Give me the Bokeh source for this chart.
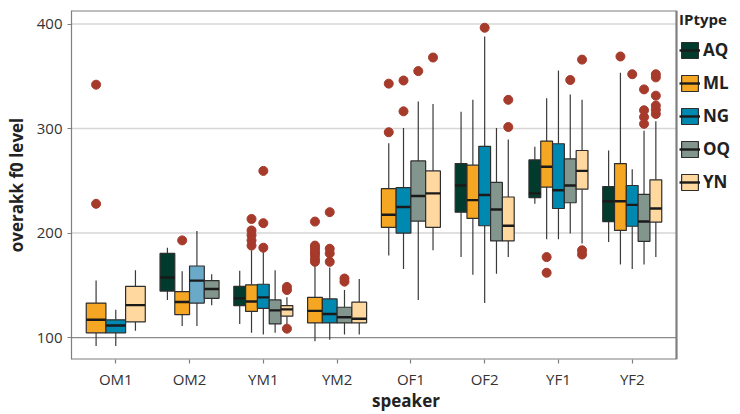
from bokeh.plotting import figure
from bokeh.models import ColumnDataSource, Range1d, FixedTicker, Legend, LegendItem
from bokeh.embed import file_html
from bokeh.resources import INLINE

speakers = ["OM1", "OM2", "YM1", "YM2", "OF1", "OF2", "YF1", "YF2"]
iptypes = ["AQ", "ML", "NG", "OQ", "YN"]
y_ticks = [100, 200, 300, 400]

box_speaker = ["OM1", "OM1", "OM1",
               "OM2", "OM2", "OM2", "OM2",
               "YM1", "YM1", "YM1", "YM1", "YM1",
               "YM2", "YM2", "YM2", "YM2",
               "OF1", "OF1", "OF1", "OF1",
               "OF2", "OF2", "OF2", "OF2", "OF2",
               "YF1", "YF1", "YF1", "YF1", "YF1",
               "YF2", "YF2", "YF2", "YF2", "YF2"]
box_type = ["ML", "NG", "YN",
            "AQ", "ML", "NG", "OQ",
            "AQ", "ML", "NG", "OQ", "YN",
            "ML", "NG", "OQ", "YN",
            "ML", "NG", "OQ", "YN",
            "AQ", "ML", "NG", "OQ", "YN",
            "AQ", "ML", "NG", "OQ", "YN",
            "AQ", "ML", "NG", "OQ", "YN"]
box_low = [92, 92, 106.5,
           136, 111, 111, 131,
           113, 104.5, 103, 104.5, 112.5,
           96.5, 98, 103, 103,
           178.5, 165.5, 136, 183.5,
           177, 160, 133, 161, 177,
           228, 194, 194, 199.5, 190,
           191.5, 170, 165.5, 170, 177]
box_q1 = [104.5, 104.5, 115,
          144.5, 122, 133, 137.5,
          130.5, 125, 128, 113, 120.5,
          114, 114, 114, 114,
          205.5, 200, 211.5, 205.5,
          220, 214, 207, 192.5, 192.5,
          234, 244, 223.5, 229, 242,
          211, 202.5, 206.5, 192, 210.5]
box_med = [117, 111.5, 131,
           157.5, 134, 154.5, 146.5,
           137.5, 134.5, 138.5, 126, 127,
           125.5, 122.5, 119.5, 118,
           217.5, 225, 235.5, 238,
           245.5, 231.5, 236.5, 222.5, 207,
           238, 263.5, 241, 245.5, 259.5,
           230.5, 230.5, 227, 211, 223.5]
box_q3 = [133, 117, 149,
          180.5, 144, 168.5, 154.5,
          149, 150.5, 151, 136, 130.5,
          138.5, 137, 129, 134,
          242.5, 243.5, 269, 259.5,
          266.5, 265, 283, 248.5, 234.5,
          270, 288, 285.5, 271, 279,
          244.5, 266.5, 245.5, 237, 251]
box_high = [154.5, 126.5, 164.5,
            186, 163.5, 202, 160.5,
            164, 183.5, 182, 164.5, 138.5,
            170, 167, 145.5, 156,
            286, 300.5, 326, 323.5,
            316, 327.5, 388, 300.5, 289.5,
            282.5, 329, 355.5, 332.5, 327.5,
            279, 353.5, 261, 298, 307]

out_speaker = ["OM1", "OM1", "OM2",
               "YM1", "YM1", "YM1", "YM1", "YM1",
               "YM1", "YM1", "YM1",
               "YM1", "YM1", "YM1",
               "YM2", "YM2", "YM2", "YM2", "YM2", "YM2", "YM2", "YM2",
               "YM2", "YM2", "YM2", "YM2",
               "YM2", "YM2",
               "OF1", "OF1", "OF1", "OF1", "OF1", "OF1",
               "OF2", "OF2", "OF2",
               "YF1", "YF1", "YF1", "YF1", "YF1", "YF1",
               "YF2", "YF2", "YF2", "YF2", "YF2", "YF2",
               "YF2", "YF2", "YF2", "YF2", "YF2", "YF2"]
out_type = ["ML", "ML", "ML",
            "ML", "ML", "ML", "ML", "ML",
            "NG", "NG", "NG",
            "YN", "YN", "YN",
            "ML", "ML", "ML", "ML", "ML", "ML", "ML", "ML",
            "NG", "NG", "NG", "NG",
            "OQ", "OQ",
            "ML", "ML", "NG", "NG", "OQ", "YN",
            "NG", "YN", "YN",
            "ML", "ML", "OQ", "YN", "YN", "YN",
            "ML", "NG", "OQ", "OQ", "OQ", "OQ",
            "YN", "YN", "YN", "YN", "YN", "YN"]
out_value = [342, 228, 193,
             188, 193, 198, 202.5, 213.5,
             186, 209.5, 259.5,
             145.5, 148.5, 108.5,
             172.5, 175, 178.5, 181, 183.5, 186, 188, 211,
             172.5, 180.5, 185, 220,
             153.5, 156.5,
             296.5, 343, 316.5, 346, 355, 368,
             396.5, 301.5, 327.5,
             162, 177, 346.5, 366, 179.5, 183.5,
             369, 352, 304.5, 311, 317.5, 337.5,
             314, 318, 322, 331.5, 349, 352]

# ---- styling ----
type_colors = {"AQ": "#003B2E", "ML": "#F5A623", "NG": "#0089B0",
               "OQ": "#83968E", "YN": "#FFD8A0"}
color_override = {("OM2", "NG"): "#6AAAC8"}
outlier_color = "#A63A2B"
FONT = "Open Sans"

present = {s: [t for t in iptypes if any(bs == s and bt == t for bs, bt in zip(box_speaker, box_type))]
           for s in speakers}

def pos(s, t):
    types = present[s]
    n = len(types)
    w = 0.8 / n
    j = types.index(t)
    return speakers.index(s) + 1 - 0.4 + w * (j + 0.5), w

# layout: panel 71..676 px, legend area to the right inside the same frame
W, H = 740, 414
LEFT, RIGHT_PANEL, TOP, BOTTOM = 71, 676, 10, 52
x_lo, x_hi = 0.4, len(speakers) + 0.6
x_end = x_lo + (W - LEFT) * (x_hi - x_lo) / (RIGHT_PANEL - LEFT)
y_lo, y_hi = 79, 413

p = figure(width=W, height=H, output_backend="svg", toolbar_location=None,
           x_range=Range1d(x_lo, x_end), y_range=Range1d(y_lo, y_hi),
           min_border_left=LEFT, min_border_right=0, min_border_top=TOP, min_border_bottom=BOTTOM)

p.background_fill_color = "white"
p.border_fill_color = "white"
p.outline_line_color = None

p.xgrid.visible = False
p.ygrid.visible = False
p.yaxis.ticker = FixedTicker(ticks=y_ticks)
p.xaxis.ticker = FixedTicker(ticks=list(range(1, len(speakers) + 1)))
p.xaxis.major_label_overrides = {i + 1: s for i, s in enumerate(speakers)}

for ax in (p.xaxis, p.yaxis):
    ax.major_tick_line_color = "#7f7f7f"
    ax.major_tick_line_width = 1.2
    ax.major_tick_out = 4
    ax.major_tick_in = 0
    ax.minor_tick_line_color = None
    ax.major_label_text_font = FONT
    ax.major_label_text_font_size = "15px"
    ax.major_label_text_color = "#333333"
    ax.axis_label_text_font = FONT
    ax.axis_label_text_font_size = "17px"
    ax.axis_label_text_font_style = "bold"
    ax.axis_label_text_color = "#222222"
p.xaxis.axis_line_color = None
p.yaxis.axis_line_color = "#7f7f7f"
p.yaxis.axis_line_width = 1.2
p.yaxis.axis_label = "overakk f0 level"
p.yaxis.axis_label_standoff = 6
p.xaxis.axis_label = "speaker"
p.xaxis.major_label_standoff = 5
p.xaxis.axis_label_standoff = -3

# grid lines and panel border limited to the data panel
grid_y = [v for v in y_ticks if v != y_ticks[0]]
p.segment(x0=[x_lo] * len(grid_y), y0=grid_y, x1=[x_hi] * len(grid_y), y1=grid_y,
          line_color="#d6d6d6", line_width=1.5)
p.segment(x0=[x_lo], y0=[y_ticks[0]], x1=[x_hi], y1=[y_ticks[0]], line_color="#8a8a8a", line_width=1.3)
p.segment(x0=[x_lo, x_lo, x_hi], y0=[y_lo, y_hi, y_lo], x1=[x_hi, x_hi, x_hi], y1=[y_lo, y_hi, y_hi],
          line_color="#7f7f7f", line_width=2.2)

items = []
for t in iptypes:
    d = dict(x=[], x0=[], x1=[], w=[], low=[], q1=[], med=[], q3=[], high=[], color=[])
    for s, bt, lo, a, m, b, hi in zip(box_speaker, box_type, box_low, box_q1, box_med, box_q3, box_high):
        if bt != t:
            continue
        x, w = pos(s, t)
        d["x"].append(x); d["w"].append(w)
        d["x0"].append(x - w / 2); d["x1"].append(x + w / 2)
        d["low"].append(lo); d["q1"].append(a); d["med"].append(m)
        d["q3"].append(b); d["high"].append(hi)
        d["color"].append(color_override.get((s, t), type_colors[t]))
    src = ColumnDataSource(d)
    p.segment(x0="x", y0="q3", x1="x", y1="high", source=src, line_color="#3a3a3a", line_width=1.2)
    p.segment(x0="x", y0="low", x1="x", y1="q1", source=src, line_color="#3a3a3a", line_width=1.2)
    vb = p.vbar(x="x", width="w", bottom="q1", top="q3", source=src,
                fill_color="color", line_color="#2e2e2e", line_width=1.2)
    md = p.segment(x0="x0", y0="med", x1="x1", y1="med", source=src,
                   line_color="#1a1a1a", line_width=2.4)
    ox, oy = [], []
    for s, ot, v in zip(out_speaker, out_type, out_value):
        if ot == t:
            ox.append(pos(s, t)[0]); oy.append(v)
    p.scatter(x=ox, y=oy, size=9, fill_color=outlier_color, line_color=outlier_color)
    items.append(LegendItem(label=t, renderers=[vb, md]))

legend = Legend(items=items, location=(RIGHT_PANEL - LEFT + 3, 166), title="IPtype",
                title_text_font=FONT, title_text_font_size="15px", title_text_font_style="bold",
                title_text_color="#222222", title_standoff=9,
                label_text_font=FONT, label_text_font_size="17px", label_text_font_style="bold",
                label_text_color="#222222",
                glyph_width=21, glyph_height=20, spacing=10,
                label_standoff=3, padding=0, margin=0,
                border_line_color=None, background_fill_color=None)
p.add_layout(legend)

open("out.html", "w").write(file_html(p, INLINE))
